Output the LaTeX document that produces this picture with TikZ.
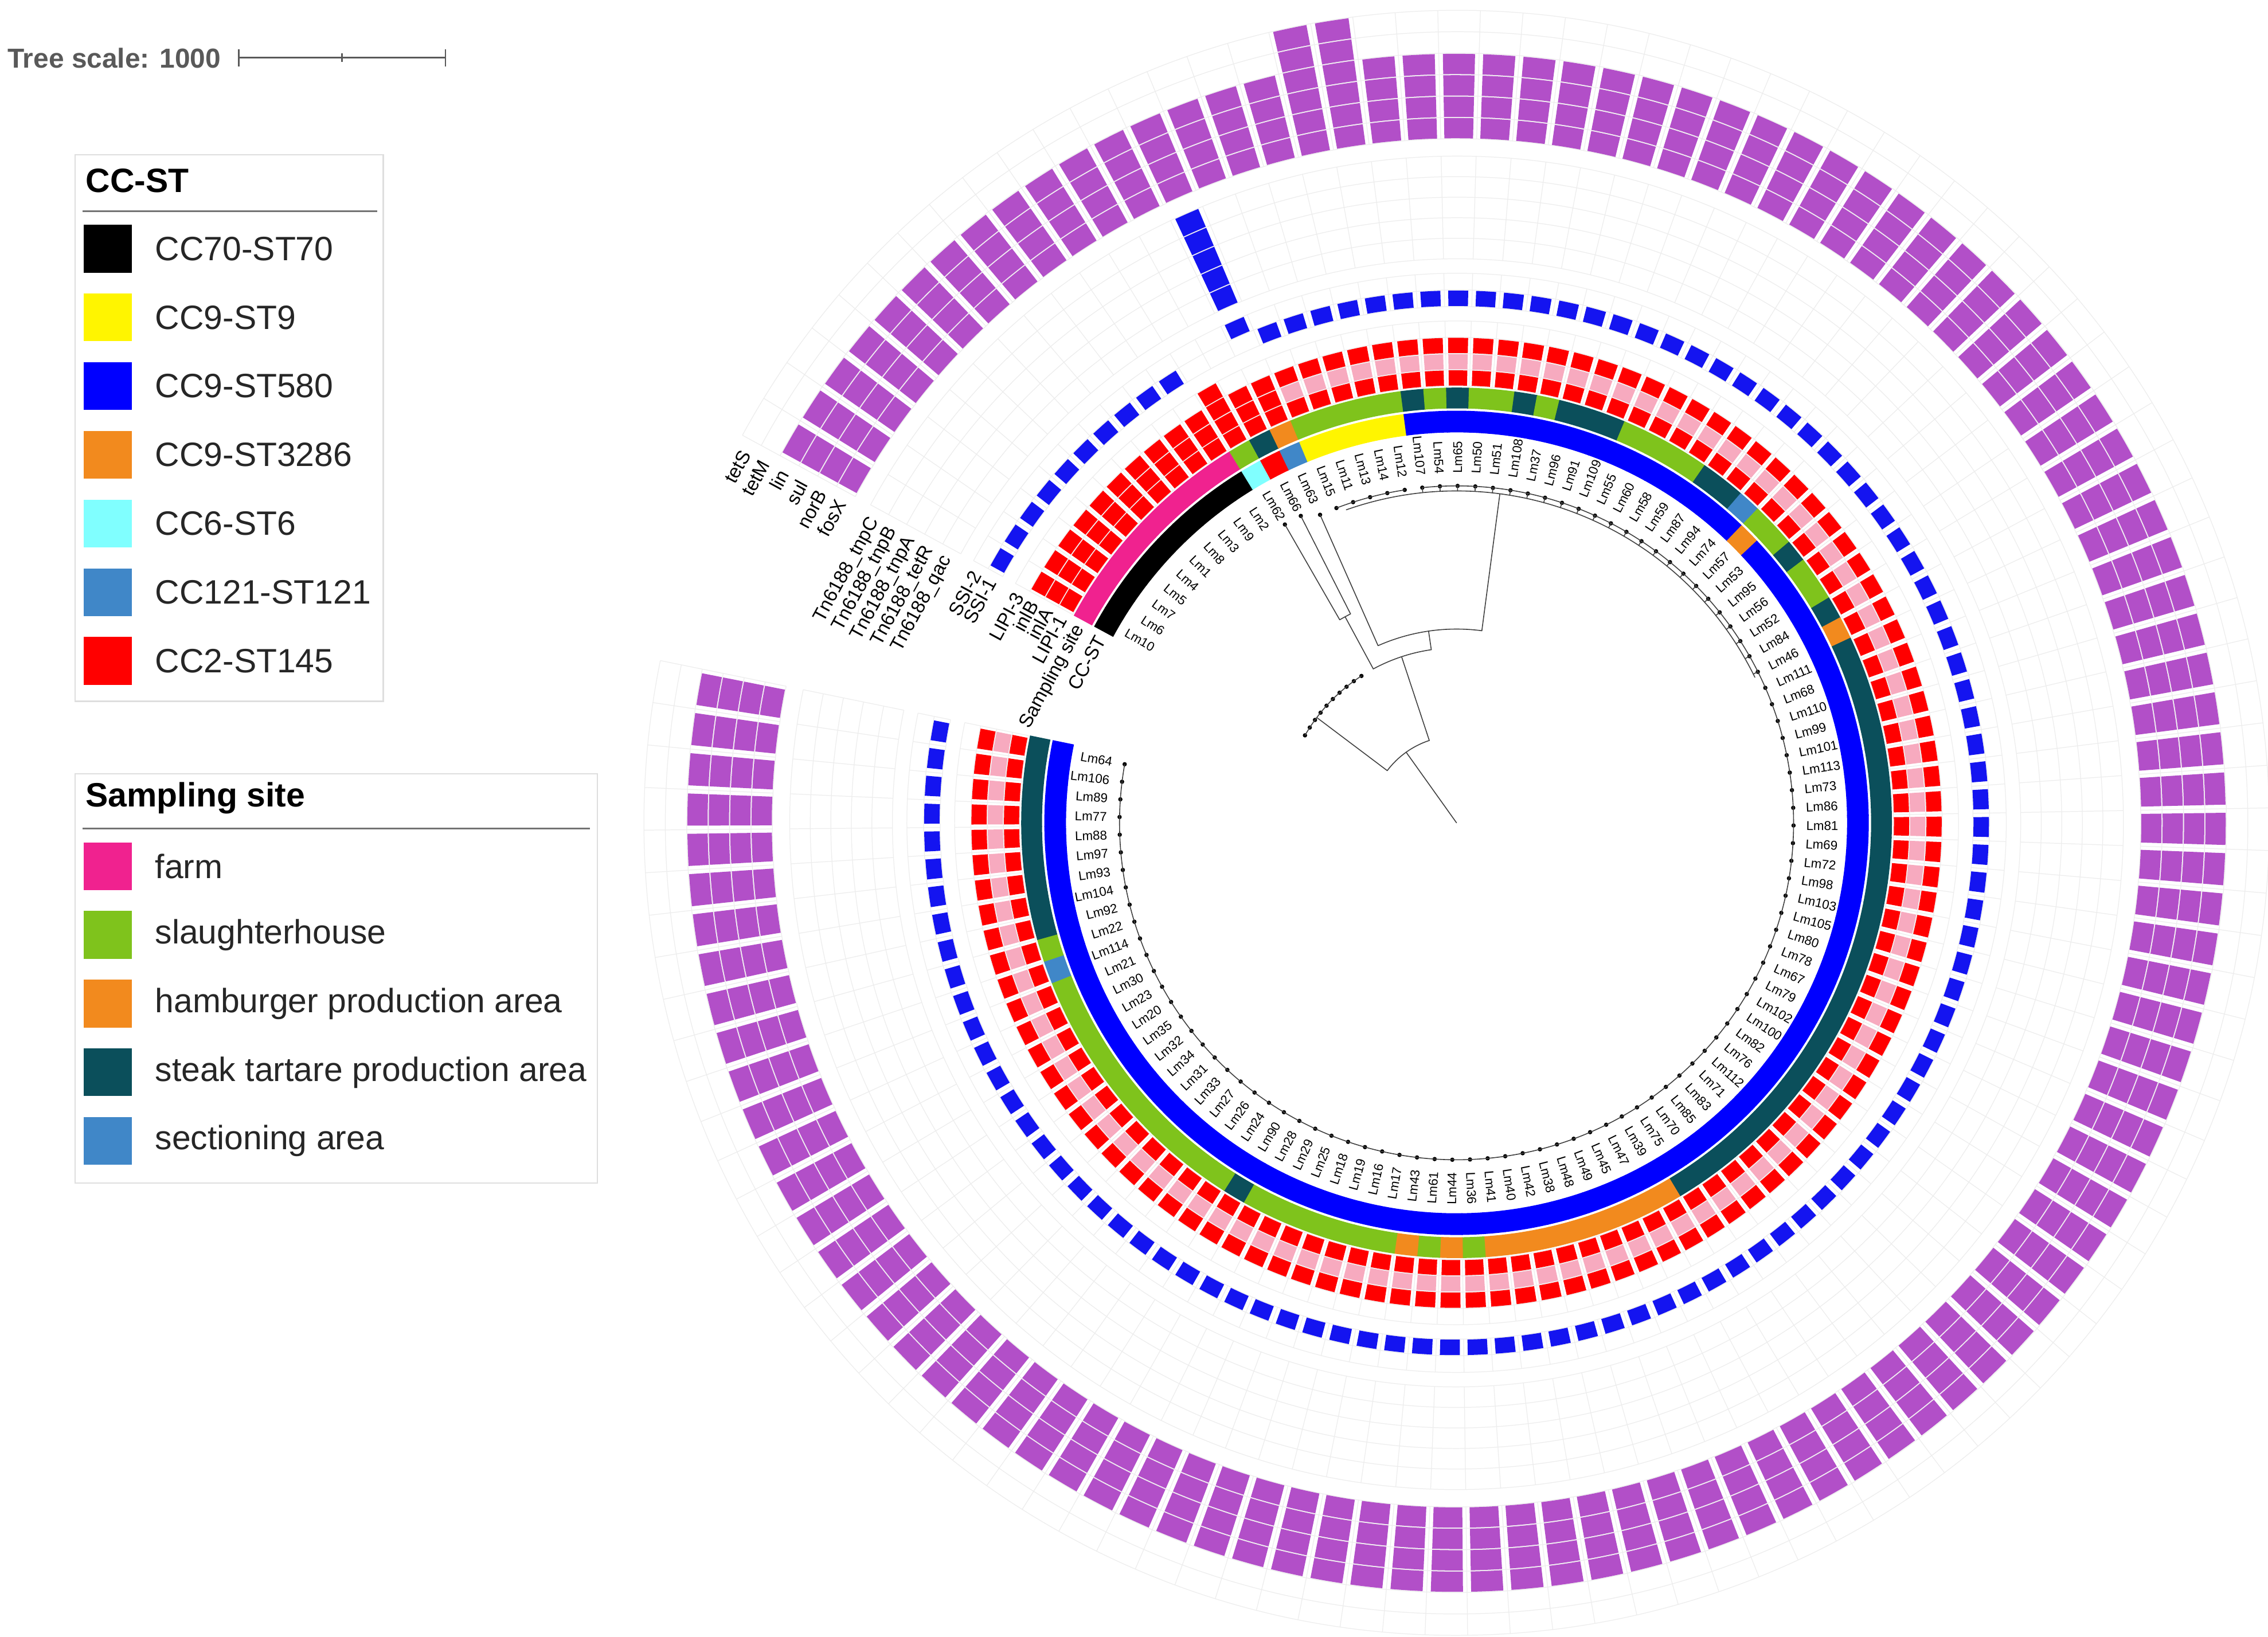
\documentclass[tikz,border=0pt]{standalone}
\usepackage{fontspec}
\setmainfont{Liberation Sans}
\definecolor{cK}{HTML}{000000}
\definecolor{cY}{HTML}{FFF500}
\definecolor{cB}{HTML}{0000FF}
\definecolor{cO}{HTML}{F28A1E}
\definecolor{cC}{HTML}{80FFFF}
\definecolor{cS}{HTML}{4087C8}
\definecolor{cR}{HTML}{FF0000}
\definecolor{sP}{HTML}{F0228F}
\definecolor{sG}{HTML}{7FC31C}
\definecolor{sH}{HTML}{F28A1E}
\definecolor{sT}{HTML}{0B4F5B}
\definecolor{sS}{HTML}{4087C8}
\definecolor{pk}{HTML}{F7AABF}
\definecolor{sq}{HTML}{1414F0}
\definecolor{pu}{HTML}{B24FC8}
\definecolor{gridc}{HTML}{EDEDED}
\newcommand{\annsec}[5]{%
  \pgfmathsetmacro\secA{#2+#3}%
  \pgfmathsetmacro\secB{#2-#3}%
  \fill[#1] (\secA:#4) arc[start angle=\secA, end angle=\secB, radius=#4] -- (\secB:#5) arc[start angle=\secB, end angle=\secA, radius=#5] -- cycle;}
\begin{document}
\begin{tikzpicture}[x=0.25mm, y=0.25mm,
  tree/.style={line width=0.45pt, draw=black!75, line cap=round},
  gridline/.style={line width=0.35pt, draw=gridc},
  leaflab/.style={font=\fontsize{6.3}{6.5}\selectfont, inner sep=0pt},
  ringlab/.style={font=\fontsize{9.4}{10}\selectfont, inner sep=0pt},
  legtxt/.style={font=\fontsize{16.6}{18}\selectfont, text=black!85, inner sep=0pt, anchor=west},
  legtitle/.style={font=\fontsize{16.6}{18}\selectfont\bfseries, inner sep=0pt, anchor=west},
  legbox/.style={draw=black!13, line width=0.7pt},
  legrule/.style={draw=black!55, line width=0.8pt}]
\fill[white] (-1007,-563) rectangle (561,569);
\useasboundingbox (-1007,-563) rectangle (561,569);

% ---------- background grid ----------
\foreach \r in {302,313.25,324.5,335.75,347,357,368.5,380,390,404.2,418.4,432.6,446.8,461,473,487.8,502.6,517.4,532.2,547,561.8}
  \draw[gridline] (151.5045:\r) arc[start angle=151.5045, end angle=-191.52, radius=\r];
\foreach \j in {0,...,114}{
  \pgfmathsetmacro\ga{151.5045-\j*3.009}
  \draw[gridline] (\ga:302)--(\ga:347) (\ga:357)--(\ga:380) (\ga:390)--(\ga:461) (\ga:473)--(\ga:561.8);
}

% ---------- leaves, rings, labels ----------
\foreach \nm/\sp [count=\i] in {Lm10/P,Lm6/P,Lm7/P,Lm5/P,Lm4/P,Lm1/P,Lm8/P,Lm3/P,Lm9/P,Lm2/P,
 Lm62/G,Lm66/T,Lm63/H,Lm15/G,Lm11/G,Lm13/G,Lm14/G,Lm12/G,
 Lm107/T,Lm54/G,Lm65/T,Lm50/G,Lm51/G,Lm108/T,Lm37/G,Lm96/T,Lm91/T,Lm109/T,
 Lm55/G,Lm60/G,Lm58/G,Lm59/G,Lm87/T,Lm94/T,Lm74/S,Lm57/G,Lm53/G,Lm95/T,Lm56/G,Lm52/G,Lm84/T,Lm46/H,
 Lm111/T,Lm68/T,Lm110/T,Lm99/T,Lm101/T,Lm113/T,Lm73/T,Lm86/T,Lm81/T,Lm69/T,
 Lm72/T,Lm98/T,Lm103/T,Lm105/T,Lm80/T,Lm78/T,Lm67/T,Lm79/T,Lm102/T,Lm100/T,
 Lm82/T,Lm76/T,Lm112/T,Lm71/T,Lm83/T,Lm85/T,Lm70/T,Lm75/T,
 Lm39/H,Lm47/H,Lm45/H,Lm49/H,Lm48/H,Lm38/H,Lm42/H,Lm40/H,Lm41/H,
 Lm36/G,Lm44/H,Lm61/G,Lm43/H,
 Lm17/G,Lm16/G,Lm19/G,Lm18/G,Lm25/G,Lm29/G,Lm28/G,Lm90/T,
 Lm24/G,Lm26/G,Lm27/G,Lm33/G,Lm31/G,Lm34/G,Lm32/G,Lm35/G,Lm20/G,Lm23/G,Lm30/G,Lm21/G,
 Lm114/S,Lm22/G,Lm92/T,Lm104/T,Lm93/T,Lm97/T,Lm88/T,Lm77/T,Lm89/T,Lm106/T,Lm64/T}{
  \pgfmathsetmacro\tha{150-(\i-1)*3.009}
  % CC-ST colour
  \def\ccol{cB}%
  \ifnum\i<11 \def\ccol{cK}\fi
  \ifnum\i=11 \def\ccol{cC}\fi
  \ifnum\i=12 \def\ccol{cR}\fi
  \ifnum\i=13 \def\ccol{cS}\fi
  \ifnum\i>13 \ifnum\i<19 \def\ccol{cY}\fi\fi
  \ifnum\i=36 \def\ccol{cO}\fi
  \annsec{\ccol}{\tha}{1.56}{270}{285}
  \annsec{s\sp}{\tha}{1.56}{286.6}{301}
  % LIPI-1, inlA, inlB, LIPI-3
  \annsec{cR}{\tha}{1.19}{302.4}{312.9}
  \ifnum\i<14 \def\iacol{cR}\else\def\iacol{pk}\fi
  \annsec{\iacol}{\tha}{1.19}{313.65}{324.1}
  \annsec{cR}{\tha}{1.19}{324.9}{335.4}
  \ifnum\i=11 \annsec{cR}{\tha}{1.19}{336.15}{346.6}\fi
  % SSI-1 / SSI-2 / Tn6188
  \ifnum\i<11 \annsec{sq}{\tha}{1.08}{357.4}{368.1}\fi
  \ifnum\i>13 \annsec{sq}{\tha}{1.08}{357.4}{368.1}\fi
  \ifnum\i=13
    \annsec{sq}{\tha}{1.08}{368.9}{379.6}
    \foreach \k in {0,...,4}{\annsec{sq}{\tha}{1.08}{390.4+14.2*\k}{403.8+14.2*\k}}
  \fi
  % fosX, norB, sul, lin (+ tetM, tetS)
  \def\np{3}%
  \ifnum\i=17 \def\np{5}\fi
  \ifnum\i=18 \def\np{5}\fi
  \foreach \k in {0,...,\np}{\annsec{pu}{\tha}{1.2}{473.4+14.8*\k}{487.4+14.8*\k}}
  % leaf label
  \def\flip{0}%
  \ifnum\i<21 \def\flip{1}\fi
  \ifnum\i>80 \def\flip{1}\fi
  \ifnum\flip=1
    \node[leaflab, anchor=east, rotate=\tha+180] (L\i) at (\tha:241.5) {\nm};
  \else
    \node[leaflab, anchor=west, rotate=\tha] (L\i) at (\tha:241.5) {\nm};
  \fi
  % leaf dot
  \def\dotr{233}%
  \ifnum\i<11 \def\dotr{121}\fi
  \ifnum\i=11 \def\dotr{238}\fi
  \ifnum\i=12 \def\dotr{238}\fi
  \fill[black] (\tha:\dotr) circle[radius=1.5];
  \ifnum\i>18 \ifnum\i<43 \draw[tree] (\tha:229.5) -- (\tha:233); \fi\fi
}

% ---------- tree ----------
\coordinate (root) at (0,0);
\coordinate (nA) at (125.5:60);
\draw[tree] (root) -- (nA);
\draw[tree] (143:60) arc[start angle=143, end angle=108.3, radius=60];
\draw[tree] (143:60) -- (143:121);
\draw[tree] (150:121) arc[start angle=150, end angle=122.92, radius=121];
\draw[tree] (108.3:60) -- (108.3:121);
\draw[tree] (118.4:121) arc[start angle=118.4, end angle=98.3, radius=121];
\draw[tree] (118.4:121) -- (118.4:162);
\draw[tree] (119.91:162) arc[start angle=119.91, end angle=116.9, radius=162];
\draw[tree] (119.91:162) -- (119.91:238);
\draw[tree] (116.9:162) -- (116.9:238);
\draw[tree] (98.3:121) -- (98.3:134);
\draw[tree] (113.89:134) arc[start angle=113.89, end angle=82.5, radius=134];
\draw[tree] (113.89:134) -- (113.89:233);
\draw[tree] (82.5:134) -- (82.5:229.5);
\draw[tree] (109.4:229.5) arc[start angle=109.4, end angle=26, radius=229.5];
\draw[tree] (110.87:233) arc[start angle=110.87, end angle=98.84, radius=233];
\draw[tree] (95.83:233) arc[start angle=95.83, end angle=-189.97, radius=233];

% ---------- ring labels ----------
\foreach \t/\r [count=\q] in {CC-ST/277.5, Sampling site/293.8, LIPI-1/307.7, inlA/318.9, inlB/330.1, LIPI-3/341.4,
  SSI-1/362.8, SSI-2/374.3, Tn6188\_qac/397.1, Tn6188\_tetR/411.3, Tn6188\_tnpA/425.5, Tn6188\_tnpB/439.7, Tn6188\_tnpC/453.9,
  fosX/480.4, norB/495.2, sul/510, lin/524.8, tetM/539.6, tetS/554.4}
  \node[ringlab, anchor=east, rotate=61.5] (R\q) at (152.4:\r) {\t};

% ---------- legends and scale (image coordinates) ----------
\begin{scope}[shift={(-1007,569)}, yscale=-1]
  \node[font=\fontsize{13.5}{14}\selectfont\bfseries, text=black!65, anchor=west, inner sep=0pt] (ts) at (5,40) {Tree scale: 1000};
  \coordinate (sb1) at (165,40);
  \coordinate (sb2) at (308,40);
  \draw[black!65, line width=0.8pt] (sb1) -- (sb2);
  \draw[black!65, line width=0.8pt] (165,34) -- (165,46) (308,34) -- (308,46) (236.5,37) -- (236.5,43);

  \draw[legbox] (52,107) rectangle (265,485);
  \node[legtitle] (t1) at (59,125) {CC-ST};
  \draw[legrule] (57,146) -- (261,146);
  \foreach \c/\t [count=\k] in {cK/CC70-ST70, cY/CC9-ST9, cB/CC9-ST580, cO/CC9-ST3286, cC/CC6-ST6, cS/CC121-ST121, cR/CC2-ST145}{
    \pgfmathsetmacro\yy{172+(\k-1)*47.5}
    \fill[\c] (58,\yy-16.5) rectangle (91,\yy+16.5);
    \node[legtxt] (a\k) at (107,\yy) {\t};
  }
  \draw[legbox] (52,535) rectangle (413,818);
  \node[legtitle] (t2) at (59,552) {Sampling site};
  \draw[legrule] (57,573) -- (408,573);
  \foreach \c/\t [count=\k] in {sP/farm, sG/slaughterhouse, sH/hamburger production area, sT/steak tartare production area, sS/sectioning area}{
    \pgfmathsetmacro\yy{599+(\k-1)*47.5}
    \fill[\c] (58,\yy-16.5) rectangle (91,\yy+16.5);
    \node[legtxt] (b\k) at (107,\yy) {\t};
  }
\end{scope}
\end{tikzpicture}
\end{document}
